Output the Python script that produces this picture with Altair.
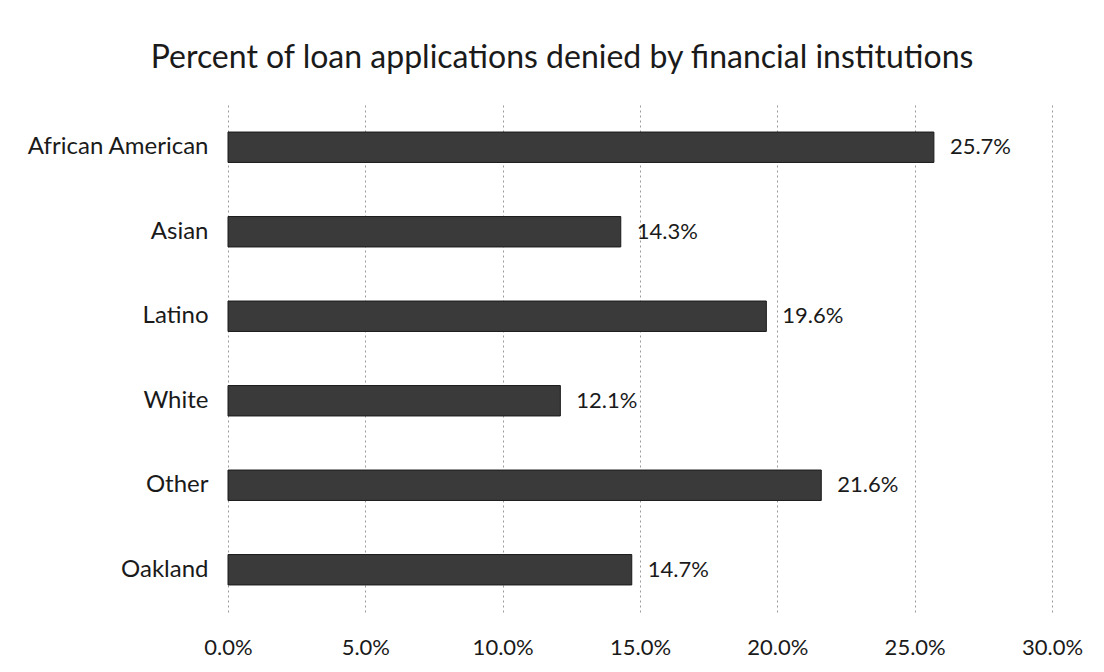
import altair as alt
import pandas as pd

groups = ["African American", "Asian", "Latino", "White", "Other", "Oakland"]
denied = [0.257, 0.143, 0.196, 0.121, 0.216, 0.147]
tick_values = [0.0, 0.05, 0.10, 0.15, 0.20, 0.25, 0.30]

df = pd.DataFrame({"group": groups, "denied": denied})

FONT = "Lato"

base = alt.Chart(df).encode(
    y=alt.Y("group:N", sort=groups, title=None,
            scale=alt.Scale(paddingInner=0.64, paddingOuter=0.32),
            axis=alt.Axis(ticks=False, domain=False, labelPadding=20, labelLimit=400,
                          labelFontSize=24, labelFont=FONT, labelColor="#1a1a1a",
                          grid=False)),
)

bars = base.mark_bar(color="#3a3a3a", stroke="#1a1a1a", strokeWidth=1).encode(
    x=alt.X("denied:Q", title=None,
            scale=alt.Scale(domain=[0, 0.30], nice=False),
            axis=alt.Axis(values=tick_values, format=".1%", ticks=False, domain=False,
                          labelFlush=False, labelPadding=25, labelFontSize=22,
                          labelFont=FONT, labelColor="#1a1a1a", grid=True,
                          gridColor="#9a9a9a", gridDash=[2, 3], gridWidth=1)),
)

labels = base.mark_text(align="left", baseline="middle", dx=16, fontSize=22,
                        font=FONT, color="#1a1a1a").encode(
    x=alt.X("denied:Q"),
    text=alt.Text("denied:Q", format=".1%"),
)

chart = (bars + labels).properties(
    width=824,
    height=507,
    background="white",
    title=alt.TitleParams(
        "Percent of loan applications denied by financial institutions",
        fontSize=32, font=FONT, fontWeight="normal", color="#1a1a1a",
        anchor="middle", dx=-78, offset=30,
    ),
    autosize=alt.AutoSizeParams(type="none"),
    padding={"left": 220, "top": 97, "right": 44, "bottom": 52},
).configure_view(strokeWidth=0)

chart.save("out.html", embed_options={"renderer": "svg", "actions": False})
